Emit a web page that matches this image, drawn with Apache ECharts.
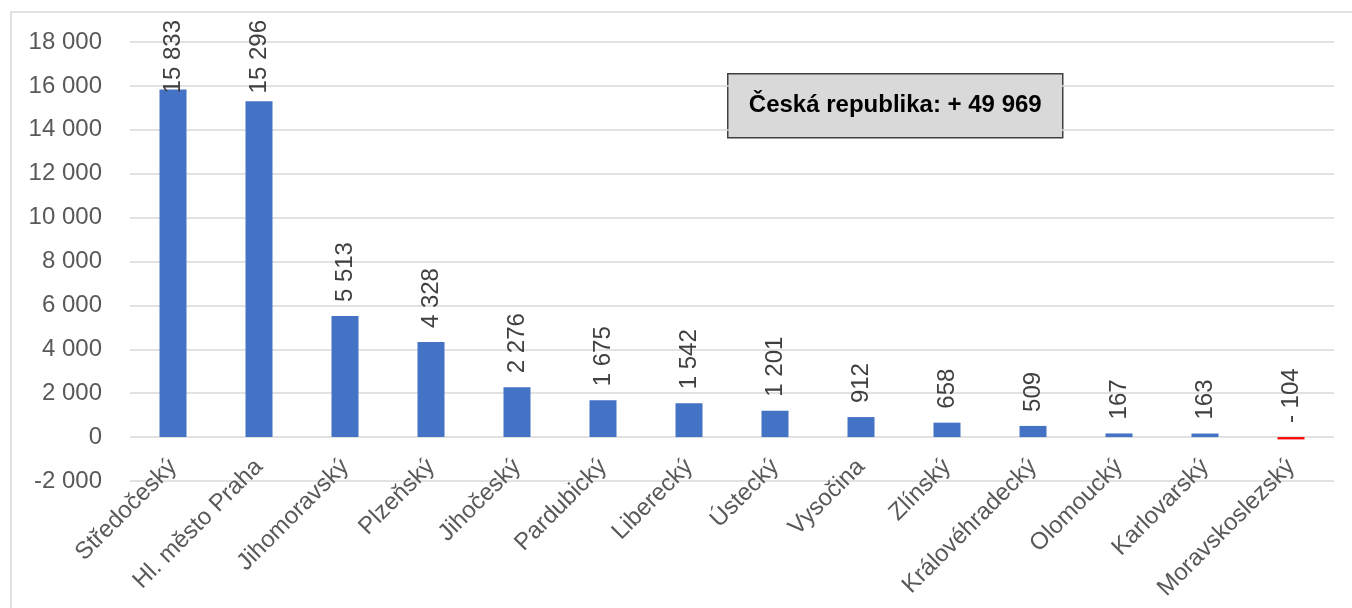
<!DOCTYPE html>
<html>
<head>
<meta charset="utf-8">
<script src="https://cdn.jsdelivr.net/npm/echarts@6/dist/echarts.min.js"></script>
<style>
  html, body { margin: 0; padding: 0; background: #fff; }
  #chart { width: 1352px; height: 608px; }
</style>
</head>
<body>
<div id="chart"></div>
<script>
// kraje, přírůstek obyvatel
var regions = ['Středočeský', 'Hl. město Praha', 'Jihomoravský', 'Plzeňský', 'Jihočeský', 'Pardubický',
  'Liberecký', 'Ústecký', 'Vysočina', 'Zlínský', 'Královéhradecký', 'Olomoucký', 'Karlovarský', 'Moravskoslezský']
var increase = [15833, 15296, 5513, 4328, 2276, 1675, 1542, 1201, 912, 658, 509, 167, 163, -104]
var totalLabel = 'Česká republika: + 49 969'
var yMin = -2000
var yMax = 18000
var yStep = 2000

var FONT = '"Liberation Sans", Arial, sans-serif'
var H = 608, TOP = 42, BOTTOM = 127
// category labels sit at the zero line, like in Excel
var zeroOffset = -(H - TOP - BOTTOM) * (0 - yMin) / (yMax - yMin)

function groupDigits(v) {
  return String(Math.abs(v)).replace(/\B(?=(\d{3})+(?!\d))/g, ' ')
}

var chart = echarts.init(document.getElementById('chart'))
chart.setOption({
  animation: false,
  grid: { left: 130, right: 18, top: TOP, bottom: BOTTOM, outerBoundsMode: 'none', containLabel: false },
  graphic: [
    {
      type: 'rect',
      shape: { x: 11, y: 12, width: 1400, height: 700 },
      style: { fill: 'none', stroke: '#d9d9d9', lineWidth: 1.5 },
      silent: true,
      z: -1
    },
    {
      type: 'group',
      left: 727,
      top: 73,
      children: [
        {
          type: 'rect',
          shape: { x: 0, y: 0, width: 335, height: 64 },
          style: { fill: '#d9d9d9', stroke: '#404040', lineWidth: 1.5 }
        },
        {
          type: 'text',
          x: 167.5,
          y: 32,
          style: {
            text: totalLabel,
            fill: '#000',
            font: 'bold 24px ' + FONT,
            align: 'center',
            verticalAlign: 'middle'
          }
        }
      ]
    }
  ],
  xAxis: {
    type: 'category',
    data: regions,
    offset: zeroOffset,
    axisLine: { show: false, onZero: false },
    axisTick: { show: false },
    axisLabel: {
      rotate: 45,
      interval: 0,
      margin: 26,
      color: '#595959',
      fontSize: 24,
      fontFamily: FONT
    }
  },
  yAxis: {
    type: 'value',
    min: yMin,
    max: yMax,
    interval: yStep,
    axisLine: { show: false },
    axisTick: { show: false },
    splitLine: { lineStyle: { color: '#d9d9d9', width: 1.5 } },
    axisLabel: {
      margin: 28,
      color: '#595959',
      fontSize: 24,
      fontFamily: FONT,
      formatter: function (v) {
        return (v < 0 ? '-' : '') + groupDigits(v)
      }
    }
  },
  series: [{
    type: 'bar',
    barWidth: 27,
    data: increase.map(function (v) {
      return { value: v, itemStyle: { color: v < 0 ? '#ff0000' : '#4472c4' } }
    }),
    label: {
      show: true,
      position: 'top',
      rotate: 90,
      align: 'left',
      verticalAlign: 'middle',
      distance: 14,
      color: '#404040',
      fontSize: 24,
      fontFamily: FONT,
      formatter: function (p) {
        return (p.value < 0 ? '- ' : '') + groupDigits(p.value)
      }
    },
    labelLayout: function (p) {
      // Excel keeps the labels inside the chart area
      var r = p.labelRect
      if (r.y >= 20) return {}
      return { x: r.x + r.width / 2, y: 20 + r.height }
    }
  }]
})
</script>
</body>
</html>
